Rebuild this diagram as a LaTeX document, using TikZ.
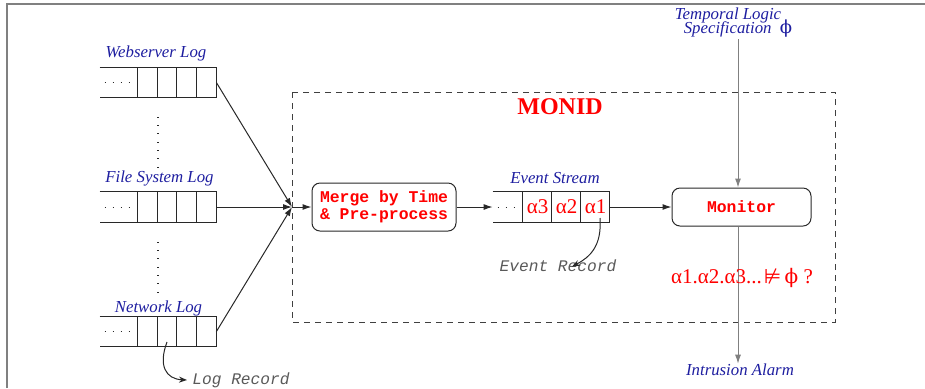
\documentclass[tikz,border=0pt]{standalone}
\usepackage{fontspec}
\setmainfont{Liberation Serif}
\setmonofont{Liberation Mono}
\newfontfamily\greekface{DejaVu Serif}
\newfontfamily\relface{DejaVu Sans}
\usetikzlibrary{arrows.meta}
\definecolor{lblblue}{RGB}{30,30,160}
\definecolor{linegray}{RGB}{128,128,128}
\definecolor{inkgray}{RGB}{40,40,40}
\newcommand\uphi{{\greekface\fontsize{9}{10}\selectfont ϕ}}

\begin{document}
\begin{tikzpicture}[x=0.5pt,y=-0.5pt,
  lbl/.style={text=lblblue, font=\fontsize{8.4}{9.5}\selectfont\itshape, inner sep=0},
  procbox/.style={draw=inkgray, rounded corners=4pt, line width=0.5pt, text=red,
    font=\fontsize{8.2}{8.2}\selectfont\ttfamily\bfseries, align=center, inner sep=0},
  queue/.style={minimum width=58pt, minimum height=14.8pt, inner sep=0},
  qline/.style={draw=inkgray, line width=0.5pt},
  arr/.style={-{Latex[length=4.5pt,width=3pt]}, draw=inkgray, line width=0.5pt},
  note/.style={text=black!65, font=\fontsize{8.1}{9.5}\selectfont\ttfamily\itshape, inner sep=0},
  sym/.style={text=red, font=\fontsize{10.5}{12}\selectfont, inner sep=0}
]
\useasboundingbox (0,0) rectangle (925,388);

% page frame
\draw[linegray, line width=1pt] (7,388) -- (7,3.5) -- (925,3.5);

% MONID boundary
\draw[black!75, line width=0.5pt, dash pattern=on 3pt off 2.5pt] (292,92) rectangle (835,322);
\node[text=red, font=\fontsize{12}{14}\selectfont\bfseries, inner sep=0] (monid) at (560,107) {MONID};

% log queues
\node[queue] (web) at (158,82.5) {};
\node[queue] (fs)  at (158,207) {};
\node[queue] (net) at (158,331.5) {};
\foreach \q in {web,fs,net}{
  \draw[qline] (\q.north west) -- (\q.north east) -- (\q.south east) -- (\q.south west);
  \foreach \dx in {38,58,77,97}
    \draw[qline] ([xshift=\dx*0.5pt]\q.north west) -- ([xshift=\dx*0.5pt]\q.south west);
  \draw[inkgray, line width=0.5pt, dash pattern=on 0.6pt off 3.4pt]
    ([xshift=2.5pt]\q.west) -- ([xshift=16pt]\q.west);
}
\node[lbl] (weblbl) at (156,53)    {Webserver Log};
\node[lbl] (fslbl)  at (159.5,178) {File System Log};
\node[lbl] (netlbl) at (158.5,308) {Network Log};

% vertical ellipses between queues
\foreach \y in {117,125.3,133.6,142,150.3,158.6,167}
  \draw[inkgray, line width=0.5pt] (157,\y) -- (159,\y);
\foreach \y in {242,250.3,258.6,267,275.3,283.6,292}
  \draw[inkgray, line width=0.5pt] (157,\y) -- (159,\y);

% merge stage
\coordinate (join) at (292,207);
\node[procbox, minimum width=72pt, minimum height=24pt] (merge) at (384,207)
  {Merge by Time\\[0.3pt]\& Pre-process};
\draw[arr] (web.east) -- (join);
\draw[arr] (fs.east)  -- (join);
\draw[arr] (net.east) -- (join);
\draw[arr] (join) -- (merge.west);

% event stream
\node[queue] (evq) at (551,207) {};
\draw[qline] (evq.north west) -- (evq.north east) -- (evq.south east) -- (evq.south west);
\foreach \dx in {30,59,88}
  \draw[qline] ([xshift=\dx*0.5pt]evq.north west) -- ([xshift=\dx*0.5pt]evq.south west);
\draw[inkgray, line width=0.5pt, dash pattern=on 0.6pt off 3.4pt]
  ([xshift=2.5pt]evq.west) -- ([xshift=13pt]evq.west);
\node[sym] (a3) at (537.5,207) {α3};
\node[sym] (a2) at (566.5,207) {α2};
\node[sym] (a1) at (595.5,207) {α1};
\node[lbl] (evlbl) at (555,178) {Event Stream};
\draw[arr] (merge.east) -- (evq.west);

% monitor
\node[procbox, minimum width=69.5pt, minimum height=19pt] (mon) at (741.5,207) {Monitor};
\draw[arr] (evq.east) -- (mon.west);

% specification input
\node[lbl] (spec1) at (728,15) {Temporal Logic};
\node[lbl] (spec2) at (738,29) {Specification\ \ {\upshape\uphi}};
\coordinate (specin) at (738,39);
\draw[arr, draw=linegray] (specin) -- (specin |- mon.north);

% alarm output
\node[lbl] (alarm) at (740,370) {Intrusion Alarm};
\draw[arr, draw=linegray] (mon.south -| specin) -- (specin |- alarm.north);
\node[sym] (check) at (742,278)
  {α1.α2.α3...\kern1pt{\relface\fontsize{10}{12}\selectfont ⊭}\,{\greekface\fontsize{10}{12}\selectfont ϕ} ?};

% record annotations
\node[note] (evrec) at (558,266) {Event Record};
\coordinate (evsrc) at (600,218);
\draw[-{Stealth[length=4pt,width=3pt]}, draw=inkgray, line width=0.5pt]
  (evsrc) .. controls (602,246) and (590,257) .. ([xshift=7pt,yshift=-3.5pt]evrec.north);

\node[note] (logrec) at (241,380) {Log Record};
\coordinate (logsrc) at (167,342);
\draw[-{Stealth[length=4pt,width=3pt]}, draw=inkgray, line width=0.5pt]
  (logsrc) .. controls (158,366) and (166,379) .. ([xshift=-2.5pt]logrec.west);
\end{tikzpicture}
\end{document}
